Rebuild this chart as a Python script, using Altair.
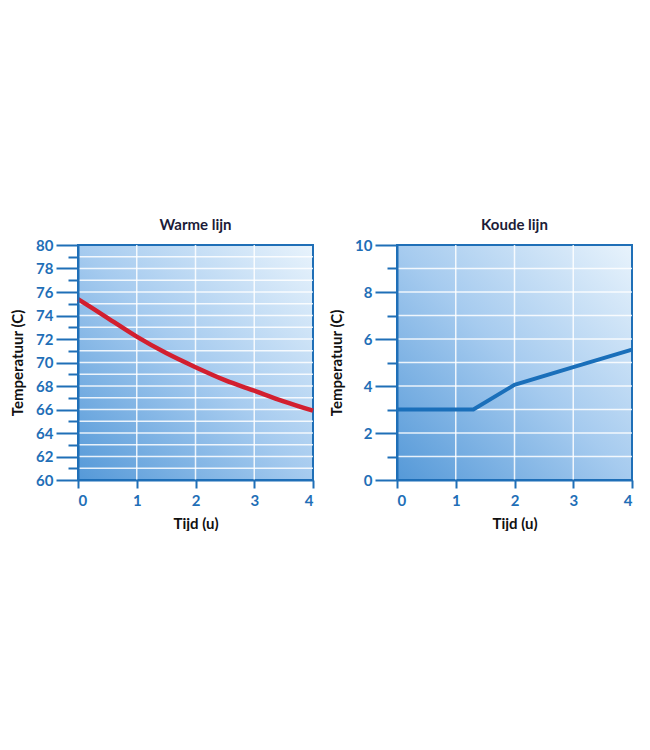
import altair as alt
import pandas as pd

# ---- data ----
x_ticks = [0, 1, 2, 3, 4]
x_grid = [1, 2, 3]

warm_t = [0, 0.5, 1, 1.5, 2, 2.5, 3, 3.5, 4]
warm_temp = [75.4, 73.8, 72.2, 70.8, 69.6, 68.5, 67.6, 66.7, 65.9]
warm_y_ticks = list(range(60, 81))
warm_y_grid = list(range(61, 80))
warm_y_domain = [60, 80]

cold_t = [0, 1.3, 2, 3, 4]
cold_temp = [3.0, 3.0, 4.05, 4.8, 5.55]
cold_y_ticks = list(range(0, 11))
cold_y_grid = list(range(1, 10))
cold_y_domain = [0, 10]

BLUE = "#1f6fb7"
FONT = "Lato"

gradient = {
    "gradient": "linear",
    "x1": 0, "y1": 1, "x2": 1, "y2": 0,
    "stops": [
        {"offset": 0, "color": "#5599d8"},
        {"offset": 0.5, "color": "#a6cbef"},
        {"offset": 1, "color": "#e8f3fc"},
    ],
}


def panel(title, t, temp, line_color, line_width, yticks, ygrid, ydom):
    xs = alt.Scale(domain=[x_ticks[0], x_ticks[-1]], nice=False, zero=False)
    ys = alt.Scale(domain=ydom, nice=False, zero=False)
    xaxis = alt.Axis(values=x_ticks, title="Tijd (u)", tickSize=8, labelPadding=5,
                     titlePadding=8, zindex=1, format="d", grid=False)
    yaxis = alt.Axis(
        values=yticks,
        title="Temperatuur (C)",
        labelExpr="datum.value % 2 === 0 ? datum.label : ''",
        tickSize={"condition": {"test": "datum.value % 2 === 0", "value": 22}, "value": 10},
        labelPadding=3,
        titlePadding=10,
        zindex=1,
        format="d",
        grid=False,
    )
    bg_df = pd.DataFrame({"x0": [x_ticks[0]], "x1": [x_ticks[-1]],
                          "y0": [ydom[0]], "y1": [ydom[1]]})
    bg = alt.Chart(bg_df).mark_rect(fill=gradient, stroke=BLUE, strokeWidth=2).encode(
        x=alt.X("x0:Q", scale=xs, axis=xaxis), x2="x1:Q",
        y=alt.Y("y0:Q", scale=ys, axis=yaxis), y2="y1:Q",
    )
    hgrid = alt.Chart(pd.DataFrame({"g": ygrid})).mark_rule(
        color="white", strokeWidth=1.5, opacity=0.85
    ).encode(y=alt.Y("g:Q", scale=ys, axis=yaxis))
    vgrid = alt.Chart(pd.DataFrame({"g": x_grid})).mark_rule(
        color="white", strokeWidth=1.5, opacity=0.85
    ).encode(x=alt.X("g:Q", scale=xs, axis=xaxis))
    line = alt.Chart(pd.DataFrame({"t": t, "temp": temp})).mark_line(
        color=line_color, strokeWidth=line_width,
        interpolate="monotone" if len(t) > 5 else "linear"
    ).encode(
        x=alt.X("t:Q", scale=xs, axis=xaxis),
        y=alt.Y("temp:Q", scale=ys, axis=yaxis),
    )
    return alt.layer(bg, hgrid, vgrid, line).properties(
        width=235, height=235,
        title=alt.TitleParams(title, font=FONT, fontSize=15, fontWeight="bold",
                              color="#1c1c38", offset=5),
    )


left = panel("Warme lijn", warm_t, warm_temp, "#d21f2f", 4.5,
             warm_y_ticks, warm_y_grid, warm_y_domain)
right = panel("Koude lijn", cold_t, cold_temp, "#1a6fba", 4,
              cold_y_ticks, cold_y_grid, cold_y_domain)

chart = alt.hconcat(left, right, spacing=7).properties(
    padding={"top": 210, "left": 2, "right": 0, "bottom": 0},
    background="white",
).configure_view(strokeWidth=0).configure_axis(
    labelFont=FONT, labelFontSize=15, labelFontWeight="bold", labelColor=BLUE,
    titleFont=FONT, titleFontSize=15, titleFontWeight="bold", titleColor="#111111",
    tickColor=BLUE, tickWidth=2, domainColor=BLUE, domainWidth=2, grid=False,
)

chart.save("out.html", embed_options={"renderer": "svg", "actions": False})
